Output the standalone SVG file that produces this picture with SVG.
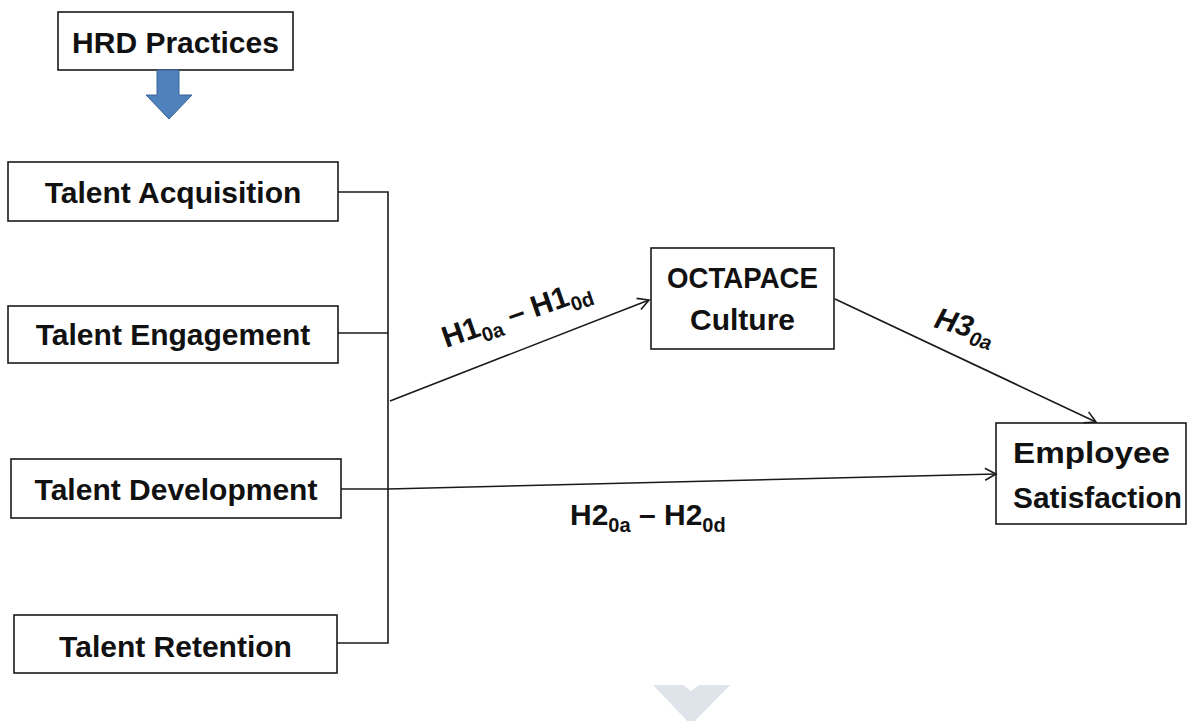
<svg xmlns="http://www.w3.org/2000/svg" width="1188" height="721" viewBox="0 0 1188 721">
<style>
.box{fill:#fff;stroke:#1a1a1a;stroke-width:1.6}
.t{font-family:"Liberation Sans",Arial,sans-serif;font-weight:bold;font-size:30px;fill:#111;text-anchor:middle}
.lbl{font-family:"Liberation Sans",Arial,sans-serif;font-weight:bold;font-size:30px;fill:#111}
.sub{font-size:20px}
.ln{fill:none;stroke:#1a1a1a;stroke-width:1.6}
</style>
<defs>
<marker id="ah" markerUnits="userSpaceOnUse" markerWidth="16" markerHeight="16" refX="12" refY="7" orient="auto">
<path d="M1,1 L12,7 L1,13" fill="none" stroke="#1a1a1a" stroke-width="1.6"/>
</marker>
</defs>
<rect width="1188" height="721" fill="#fff"/>
<g id="hrd">
<rect class="box" x="58" y="12" width="235" height="58"/>
<text class="t" x="175.5" y="53">HRD Practices</text>
</g>
<g id="hrd-arrow">
<path d="M157,70 L179,70 L179,95 L192,95 L169,119 L146,95 L157,95 Z" fill="#4f81bd" stroke="#3a6496" stroke-width="1"/>
</g>
<g id="acq">
<rect class="box" x="8" y="162" width="330" height="59"/>
<text class="t" x="173" y="203">Talent Acquisition</text>
</g>
<g id="eng">
<rect class="box" x="8" y="306" width="330" height="57"/>
<text class="t" x="173" y="345">Talent Engagement</text>
</g>
<g id="dev">
<rect class="box" x="11" y="459" width="330" height="59"/>
<text class="t" x="176" y="500">Talent Development</text>
</g>
<g id="ret">
<rect class="box" x="14" y="615" width="323" height="58"/>
<text class="t" x="175.5" y="657">Talent Retention</text>
</g>
<g id="octapace">
<rect class="box" x="651" y="248" width="183" height="101"/>
<text class="t" x="742.5" y="288" textLength="151" lengthAdjust="spacingAndGlyphs">OCTAPACE</text>
<text class="t" x="742.5" y="330">Culture</text>
</g>
<g id="emp">
<rect class="box" x="996" y="423" width="190" height="101"/>
<text class="t" x="1091.5" y="463" textLength="157" lengthAdjust="spacingAndGlyphs">Employee</text>
<text class="t" x="1097.5" y="508" textLength="169" lengthAdjust="spacingAndGlyphs">Satisfaction</text>
</g>
<g id="connectors">
<path class="ln" d="M338,192 L388,192 L388,643 L337,643"/>
<path class="ln" d="M338,333 L388,333"/>
<path class="ln" d="M341,489 L388,489"/>
<path class="ln" d="M388,489 L996,474" marker-end="url(#ah)"/>
<path class="ln" d="M390,401 L649,300" marker-end="url(#ah)"/>
<path class="ln" d="M835,299 L1096,422" marker-end="url(#ah)"/>
</g>
<g id="labels">
<text class="lbl" x="446" y="348" transform="rotate(-19 446 348)">H1<tspan class="sub" dy="7">0a</tspan><tspan dy="-7"> – H1</tspan><tspan class="sub" dy="7">0d</tspan></text>
<text class="lbl" x="570" y="525">H2<tspan class="sub" dy="7">0a</tspan><tspan dy="-7"> – H2</tspan><tspan class="sub" dy="7">0d</tspan></text>
<text class="lbl" x="933" y="327" font-style="italic" transform="rotate(16 933 327)">H3<tspan class="sub" dy="7">0a</tspan></text>
</g>
<g id="chevron">
<polygon points="653,685 683,685 691,691 699,685 730,685 691,725" fill="#dfe4ea"/>
</g>
</svg>
